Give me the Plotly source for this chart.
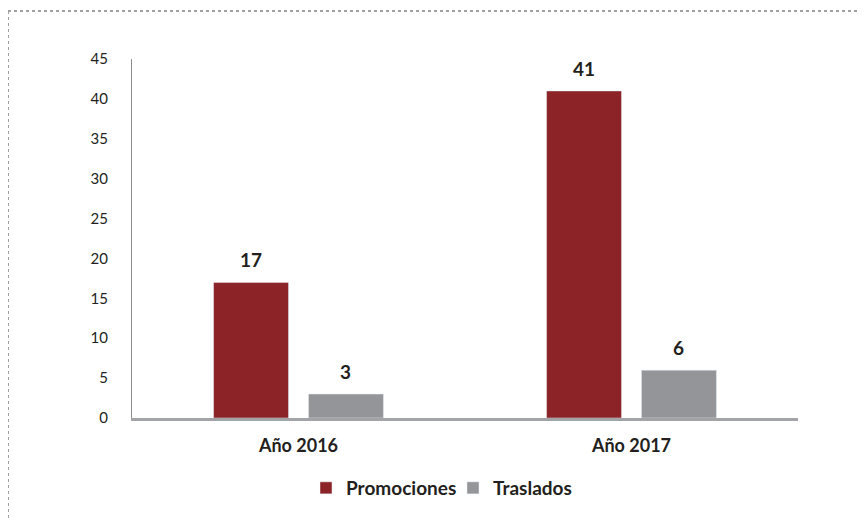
import plotly.graph_objects as go

categories = ["Año 2016", "Año 2017"]
promociones = [17, 41]
traslados = [3, 6]
y_ticks = [0, 5, 10, 15, 20, 25, 30, 35, 40, 45]

RED = "#8b2327"
GRAY = "#939598"
TXT = "#231f20"
FONT = "Lato"

# page body has an 8px default margin; figure coordinates = screen - 8
OFF = 8
W, H = 866, 520
L = 132 - OFF
T = 59 - OFF
R = W - (798 - OFF)
B = H - (418 - OFF)
pw, ph = W - L - R, H - T - B

def px_x(p):
    return (p - OFF - L) / pw

def px_y(p):
    return (H - B - (p - OFF)) / ph

fig = go.Figure()
fig.add_trace(go.Bar(name="Promociones", x=categories, y=promociones, marker_color=RED,
                     legend="legend"))
fig.add_trace(go.Bar(name="Traslados", x=categories, y=traslados, marker_color=GRAY,
                     legend="legend2"))

BARGAP, GROUPGAP = 0.43, 0.21
cat_w = pw / len(categories)
slot = cat_w * (1 - BARGAP) / 2
annotations = []
for vals, sign in ((promociones, -1), (traslados, 1)):
    for c, v in zip(categories, vals):
        annotations.append(dict(x=c, y=v, xref="x", yref="y", text=f"<b>{v}</b>",
                                showarrow=False, xshift=sign * slot / 2, yanchor="bottom",
                                yshift=9, font=dict(size=19, color=TXT, family=FONT)))

leg_font = dict(size=19, color=TXT, family=FONT, weight="bold")
fig.update_layout(
    width=W, height=H,
    margin=dict(l=L, r=R, t=T, b=B),
    paper_bgcolor="white", plot_bgcolor="white",
    barmode="group", bargap=BARGAP, bargroupgap=GROUPGAP,
    font=dict(family=FONT, color=TXT),
    showlegend=True,
    legend=dict(orientation="h", x=px_x(306), xanchor="left", y=px_y(488), yanchor="middle",
                font=leg_font, itemwidth=30, bgcolor="rgba(0,0,0,0)"),
    legend2=dict(orientation="h", x=px_x(453), xanchor="left", y=px_y(488), yanchor="middle",
                 font=leg_font, itemwidth=30, bgcolor="rgba(0,0,0,0)"),
    xaxis=dict(showline=True, linecolor="#a3a4a7", linewidth=3, ticks="",
               tickfont=dict(size=18, color=TXT, family=FONT, weight="bold"),
               showgrid=False, zeroline=False, ticklabelstandoff=9),
    yaxis=dict(range=[0, 45], tickvals=y_ticks, showline=True, linecolor="#8c8c8c",
               linewidth=1, ticks="", showgrid=False, zeroline=False,
               tickfont=dict(size=15, color=TXT, family=FONT), ticklabelstandoff=20),
    annotations=annotations,
    shapes=[
        dict(type="line", xref="paper", yref="paper", x0=px_x(8), x1=px_x(866), y0=px_y(11), y1=px_y(11),
             line=dict(color="#a0a0a0", width=2, dash="dot")),
        dict(type="line", xref="paper", yref="paper", x0=px_x(8), x1=px_x(8), y0=px_y(11), y1=px_y(520),
             line=dict(color="#a0a0a0", width=2, dash="dot")),
    ],
)

fig.write_html("out.html")
